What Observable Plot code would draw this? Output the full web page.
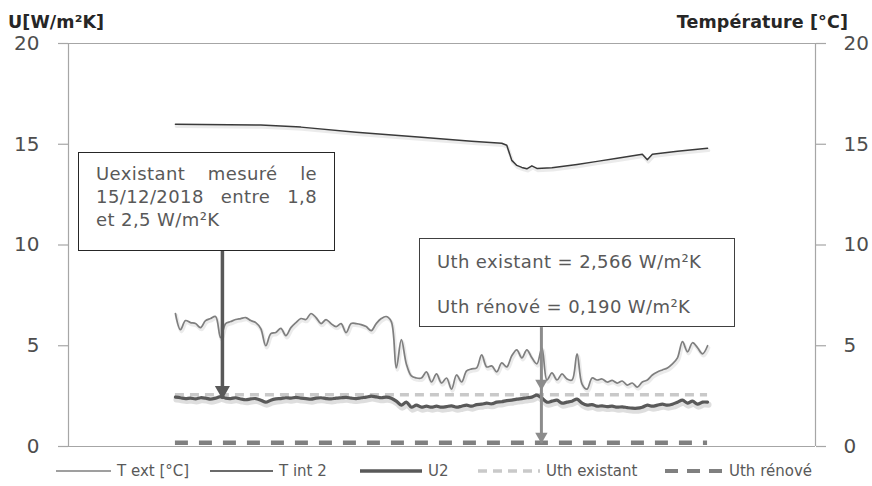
<!DOCTYPE html>
<html>
<head>
<meta charset="utf-8">
<script src="https://cdn.jsdelivr.net/npm/d3@7"></script>
<script src="https://cdn.jsdelivr.net/npm/@observablehq/plot@0.6"></script>
<style>
  body { margin: 0; background: #fff; font-family: "DejaVu Sans", Verdana, sans-serif; }
  #wrap { position: relative; width: 872px; height: 486px; overflow: hidden; background: #fff; }
  #wrap svg.plot { position: absolute; left: 0; top: 0; }
  .title { position: absolute; font-weight: bold; font-size: 17.5px; color: #262626; white-space: nowrap; line-height: 20px; letter-spacing: 0.1px; }
  .note { position: absolute; background: #fff; box-sizing: border-box; color: #595959; font-size: 18px; white-space: nowrap; letter-spacing: 0.4px; }
  .note .j { text-align: justify; text-align-last: justify; }
  .legend-item { position: absolute; display: flex; align-items: center; font-size: 15px; color: #595959; white-space: nowrap; height: 22px; }
  .legend-item svg { margin-right: 6px; }
</style>
</head>
<body>
<div id="wrap"></div>
<script>
// ---------- data ----------
// sample index 0..106 (regular measurement steps)
const tExt = [
  6.6, 5.8, 6.25, 6.15, 6.1, 5.9, 6.25, 6.35, 6.45, 5.4,
  6.1, 6.2, 6.3, 6.35, 6.4, 6.25, 6.15, 5.85, 5.0, 5.6,
  5.66, 5.86, 5.5, 5.9, 6.15, 6.35, 6.3, 6.6, 6.4, 6.1,
  6.3, 6.1, 5.95, 6.1, 5.65, 6.1, 6.1, 6.05, 5.95, 5.75,
  6.1, 6.35, 6.45, 6.2, 3.9, 5.3, 4.1, 3.5, 3.4, 3.4,
  3.7, 3.2, 3.6, 3.15, 3.4, 2.85, 3.55, 3.2, 3.75, 3.85,
  3.9, 4.55, 3.95, 4.0, 3.7, 4.15, 3.95, 4.5, 4.8, 4.4,
  4.8, 4.4, 4.1, 4.9, 3.3, 3.65, 3.3, 3.6, 3.35, 3.3,
  4.6, 3.1, 2.85, 3.4, 3.3, 3.35, 3.2, 3.28, 3.15, 3.25,
  3.05, 3.15, 2.95, 3.2, 3.3, 3.55, 3.7, 3.8, 3.9, 4.1,
  4.4, 5.2, 4.7, 5.15, 4.9, 4.6, 5.0
];
const tInt2Idx = [0, 17, 25, 36, 49, 59, 65, 66, 67, 68, 69, 70, 71, 72, 75, 80, 84, 88, 93, 94, 95, 100, 106];
const tInt2    = [15.99, 15.95, 15.85, 15.6, 15.35, 15.15, 15.05, 14.95, 14.2, 13.95, 13.85, 13.78, 13.93, 13.8, 13.83, 14.0, 14.15, 14.3, 14.5, 14.23, 14.5, 14.65, 14.8];
const u2 = [
  2.45, 2.42, 2.38, 2.4, 2.36, 2.42, 2.4, 2.35, 2.4, 2.48,
  2.4, 2.38, 2.42, 2.36, 2.32, 2.36, 2.38, 2.3, 2.2, 2.3,
  2.36, 2.38, 2.42, 2.4, 2.44, 2.4, 2.38, 2.35, 2.4, 2.42,
  2.38, 2.36, 2.4, 2.42, 2.44, 2.4, 2.38, 2.42, 2.45, 2.5,
  2.46, 2.42, 2.45, 2.4, 2.25, 2.05, 2.2, 1.95, 2.05, 1.95,
  2.0, 1.95, 2.0, 1.95, 1.98, 2.02, 1.95, 2.0, 2.05, 2.0,
  2.08, 2.1, 2.15, 2.12, 2.2, 2.22, 2.28, 2.3, 2.35, 2.38,
  2.42, 2.45, 2.55, 2.4, 2.2, 2.25, 2.3, 2.15, 2.2, 2.25,
  2.35, 2.15, 2.05, 2.08, 2.0, 2.02, 1.98, 2.0, 1.95, 1.97,
  1.93, 1.9, 1.9, 1.95, 2.05, 2.0, 2.05, 2.1, 2.05, 2.1,
  2.2, 2.3, 2.15, 2.25, 2.1, 2.2, 2.2
];
const uthExistant = 2.566;
const uthRenove = 0.19;
const yTicks = [0, 5, 10, 15, 20];
const seriesNames = ["T ext [°C]", "T int 2", "U2", "Uth existant", "Uth rénové"];
const leftTitle = "U[W/m²K]";
const rightTitle = "Température [°C]";
const note1Lines = ["Uexistant mesuré le", "15/12/2018 entre 1,8", "et 2,5 W/m²K"];
const note2Lines = ["Uth existant = 2,566 W/m²K", "Uth rénové = 0,190 W/m²K"];

// ---------- styles ----------
const C = {
  text: "#4d4d4d", axis: "#a6a6a6",
  tExt: "#7f7f7f", tInt: "#3a3a3a", u2: "#595959",
  uthE: "#c9c9c9", uthR: "#808080"
};
const N = tExt.length;
const xDomain = [-21.3, 127.5];
const tIntData = tInt2Idx.map((x, i) => ({x, y: tInt2[i]}));

// annotation anchors (data units)
const note1 = {x1: -19.3, x2: 31.9, y1: 14.59, y2: 9.68};
const note2 = {x1: 48.6, x2: 111.6, y1: 10.32, y2: 5.9};
const arrow1 = {x: 9.36, from: note1.y2, tips: [2.35]};
const arrow2 = {x: 72.9, from: note2.y2, tips: [2.78, 0.15]};

const plot = Plot.plot({
  width: 872,
  height: 455,
  marginLeft: 68,
  marginRight: 57,
  marginTop: 43,
  marginBottom: 9,
  x: {domain: xDomain, axis: null},
  y: {domain: [0, 20], axis: null},
  style: {fontFamily: "'DejaVu Sans', Verdana, sans-serif", background: "#fff", overflow: "visible"},
  marks: [
    // axes
    Plot.ruleY([0, 20], {stroke: C.axis, strokeWidth: 1.2}),
    Plot.ruleX(xDomain, {stroke: C.axis, strokeWidth: 1.2}),
    Plot.axisY({ticks: yTicks, anchor: "left", tickSize: 10, text: null, stroke: C.axis, strokeWidth: 1.2}),
    Plot.axisY({ticks: yTicks, anchor: "right", tickSize: 10, text: null, stroke: C.axis, strokeWidth: 1.2}),
    Plot.axisY({ticks: yTicks, anchor: "left", tickSize: 0, tickPadding: 29, fill: C.text, fontSize: 20}),
    Plot.axisY({ticks: yTicks, anchor: "right", tickSize: 0, tickPadding: 28, fill: C.text, fontSize: 20}),
    // shadows
    Plot.lineY(tExt, {stroke: "#000", strokeOpacity: 0.08, strokeWidth: 3.5, dy: 2, dx: 1, curve: "catmull-rom"}),
    Plot.line(tIntData, {x: "x", y: "y", stroke: "#000", strokeOpacity: 0.08, strokeWidth: 3.5, dy: 2, dx: 1}),
    Plot.lineY(u2, {stroke: "#000", strokeOpacity: 0.13, strokeWidth: 6, dy: 2.5, dx: 1, curve: "catmull-rom"}),
    // series
    Plot.ruleY([uthExistant], {x1: 0, x2: N - 1, stroke: C.uthE, strokeWidth: 3.5, strokeDasharray: "9,6"}),
    Plot.ruleY([uthRenove], {x1: 0, x2: N - 1, stroke: C.uthR, strokeWidth: 4.5, strokeDasharray: "13,11"}),
    Plot.lineY(tExt, {stroke: C.tExt, strokeWidth: 1.7, curve: "catmull-rom"}),
    Plot.line(tIntData, {x: "x", y: "y", stroke: C.tInt, strokeWidth: 1.5}),
    Plot.lineY(u2, {stroke: C.u2, strokeWidth: 3.2, curve: "catmull-rom"}),
    // arrows
    Plot.ruleX([arrow1], {x: "x", y1: "from", y2: d => d.tips[d.tips.length - 1], stroke: "#595959", strokeWidth: 3.5}),
    Plot.dot(arrow1.tips, {x: arrow1.x, y: d => d, symbol: "triangle", rotate: 180, r: 5.6, fill: "#595959", stroke: "none", dy: -8.7}),
    Plot.ruleX([arrow2], {x: "x", y1: "from", y2: d => d.tips[d.tips.length - 1], stroke: "#8c8c8c", strokeWidth: 3}),
    Plot.dot(arrow2.tips, {x: arrow2.x, y: d => d, symbol: "triangle", rotate: 180, r: 4.6, fill: "#8c8c8c", stroke: "none", dy: -7.1})
  ]
});
plot.classList.add("plot");
const wrap = document.getElementById("wrap");
wrap.appendChild(plot);

const sx = plot.scale("x"), sy = plot.scale("y");

// titles
const t1 = document.createElement("div");
t1.className = "title"; t1.textContent = leftTitle;
t1.style.left = "8px"; t1.style.top = "12px";
wrap.appendChild(t1);
const t2 = document.createElement("div");
t2.className = "title"; t2.textContent = rightTitle;
t2.style.right = (872 - 848) + "px"; t2.style.top = "12px";
wrap.appendChild(t2);

// notes
function addNote(n, lines, opts) {
  const d = document.createElement("div");
  d.className = "note";
  const L = sx.apply(n.x1), R = sx.apply(n.x2), T = sy.apply(n.y1), B = sy.apply(n.y2);
  Object.assign(d.style, {
    left: L + "px", top: T + "px", width: (R - L) + "px", height: (B - T) + "px",
    border: opts.border, padding: opts.padding, lineHeight: opts.lineHeight
  });
  lines.forEach((s, i) => {
    const l = document.createElement("div");
    l.textContent = s;
    if (opts.justify && i < lines.length - 1) l.className = "j";
    d.appendChild(l);
  });
  wrap.appendChild(d);
}
addNote(note1, note1Lines, {border: "1.8px solid #262626", padding: "9px 17px 0 17px", lineHeight: "23px", justify: true});
addNote(note2, note2Lines, {border: "1.5px solid #404040", padding: "0 17px 0 17px", lineHeight: "45px", justify: false});

// legend
const legendStyles = [
  {stroke: C.tExt, w: 1.7, dash: null},
  {stroke: C.tInt, w: 1.5, dash: null},
  {stroke: C.u2, w: 3.5, dash: null},
  {stroke: C.uthE, w: 3.5, dash: "9,6"},
  {stroke: C.uthR, w: 4, dash: "13,9"}
];
const legendLeft = [56, 210, 360, 478, 665];
const legendLen = [55, 63, 62, 62, 58];
seriesNames.forEach((name, i) => {
  const it = document.createElement("div");
  it.className = "legend-item";
  it.style.left = legendLeft[i] + "px";
  it.style.top = "460px";
  const s = legendStyles[i];
  it.innerHTML = `<svg width="${legendLen[i]}" height="10"><line x1="0" x2="${legendLen[i]}" y1="5" y2="5" stroke="${s.stroke}" stroke-width="${s.w}" ${s.dash ? `stroke-dasharray="${s.dash}"` : ""}/></svg>`;
  const sp = document.createElement("span");
  sp.textContent = name;
  it.appendChild(sp);
  wrap.appendChild(it);
});
</script>
</body>
</html>
